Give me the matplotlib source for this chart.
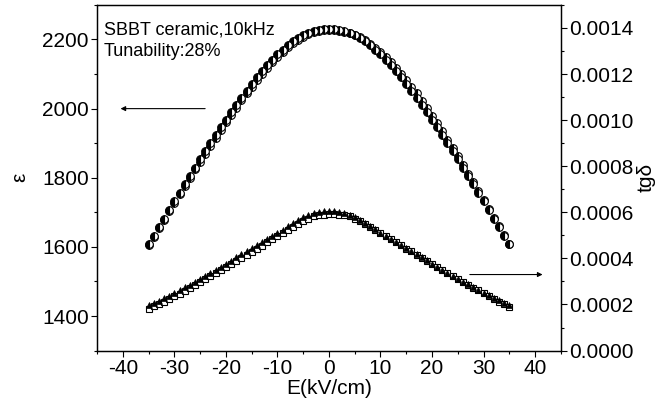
import numpy as np
import matplotlib.pyplot as plt
from matplotlib.ticker import MultipleLocator, FormatStrFormatter

plt.rcParams['font.family'] = ['Liberation Sans', 'DejaVu Sans']
plt.rcParams['font.size'] = 15
plt.rcParams['axes.unicode_minus'] = False

# field values, -35 ... 35 kV/cm in 1 kV/cm steps
E = np.arange(-35, 36)

# permittivity, up sweep and down sweep
eps_up = [1607, 1632, 1657, 1682, 1707, 1732, 1757, 1781, 1805, 1829, 1853, 1877,
          1900, 1923, 1946, 1968, 1990, 2011, 2032, 2052, 2072, 2091, 2109, 2126,
          2142, 2157, 2171, 2184, 2195, 2205, 2213, 2219, 2224, 2227, 2229, 2230,
          2229, 2227, 2224, 2219, 2213, 2205, 2195, 2184, 2171, 2157, 2142, 2126,
          2109, 2091, 2072, 2052, 2032, 2011, 1990, 1968, 1946, 1923, 1900, 1877,
          1853, 1829, 1805, 1781, 1757, 1732, 1707, 1682, 1657, 1632, 1607]
eps_down = [1605, 1629, 1654, 1679, 1704, 1728, 1752, 1776, 1800, 1824, 1847, 1870,
            1893, 1916, 1938, 1960, 1982, 2003, 2024, 2044, 2064, 2083, 2101, 2118,
            2135, 2150, 2164, 2177, 2189, 2199, 2208, 2215, 2221, 2225, 2227, 2228,
            2228, 2226, 2223, 2219, 2214, 2207, 2198, 2188, 2176, 2163, 2149, 2134,
            2118, 2101, 2083, 2064, 2044, 2023, 2002, 1980, 1957, 1934, 1910, 1886,
            1862, 1837, 1812, 1787, 1762, 1737, 1711, 1685, 1659, 1633, 1607]

# loss tangent in units of 1e-6
tan_tri = [196, 206, 217, 228, 239, 250, 262, 274, 286, 298, 311, 324,
           337, 350, 363, 377, 390, 404, 417, 431, 444, 458, 471, 485,
           498, 512, 525, 539, 552, 566, 578, 589, 597, 602, 605, 606,
           605, 602, 597, 589, 578, 566, 553, 539, 526, 512, 499, 485,
           472, 458, 445, 431, 418, 404, 391, 377, 364, 351, 338, 325,
           312, 299, 287, 275, 263, 251, 240, 229, 218, 208, 199]
tan_sq = [182, 192, 202, 213, 224, 235, 247, 259, 271, 283, 296, 309,
          322, 335, 348, 362, 375, 389, 402, 416, 429, 443, 456, 470,
          483, 497, 510, 524, 537, 550, 562, 573, 582, 588, 590, 591,
          591, 590, 588, 582, 573, 562, 550, 537, 524, 511, 497, 484,
          470, 457, 443, 430, 416, 403, 389, 376, 362, 349, 336, 323,
          310, 297, 285, 273, 261, 249, 236, 224, 213, 202, 191]

tan_tri = np.array(tan_tri) * 1e-6
tan_sq = np.array(tan_sq) * 1e-6

fig = plt.figure(figsize=(6.7, 4.11), dpi=100)
ax = fig.add_axes([0.145, 0.147, 0.692, 0.841])
ax2 = ax.twinx()

# circles (permittivity)
ax.plot(E, eps_down, 'o', ms=5.5, fillstyle='left', mfc='black', mfcalt='white',
        mec='black', mew=0.8, zorder=3)
ax.plot(E, eps_up, 'o', ms=5.5, fillstyle='left', mfc='black', mfcalt='white',
        mec='black', mew=0.8, zorder=4)

# loss tangent
ax2.plot(E, tan_sq, 's', ms=4.2, mfc='white', mec='black', mew=0.8, zorder=3)
ax2.plot(E, tan_tri, '^', ms=5, mfc='black', mec='black', mew=0.5, zorder=4)

ax.set_xlim(-45, 45)
ax.set_ylim(1300, 2300)
ax2.set_ylim(0, 0.0015)

ax.xaxis.set_major_locator(MultipleLocator(10))
ax.xaxis.set_minor_locator(MultipleLocator(5))
ax.yaxis.set_major_locator(MultipleLocator(200))
ax.yaxis.set_minor_locator(MultipleLocator(100))
ax2.yaxis.set_major_locator(MultipleLocator(0.0002))
ax2.yaxis.set_minor_locator(MultipleLocator(0.0001))
ax2.yaxis.set_major_formatter(FormatStrFormatter('%.4f'))

for a in (ax, ax2):
    a.tick_params(which='major', direction='out', length=4, width=0.8, pad=2)
    a.tick_params(which='minor', direction='out', length=2.5, width=0.8)
    for s in a.spines.values():
        s.set_linewidth(0.9)
ax.tick_params(top=False, right=False)
ax2.tick_params(left=False)

ax.set_xlabel('E(kV/cm)', labelpad=1)
ax.set_ylabel('ε', labelpad=9)
ax2.set_ylabel('tgδ', labelpad=2.5)

ax.text(0.015, 0.928, 'SBBT ceramic,10kHz', transform=ax.transAxes,
        va='center', fontsize=13)
ax.text(0.015, 0.864, 'Tunability:28%', transform=ax.transAxes,
        va='center', fontsize=13)

# arrows pointing at the axes
ax.annotate('', xy=(-41, 2000), xytext=(-23.5, 2000),
            arrowprops=dict(arrowstyle='-|>', color='black', lw=0.8,
                            mutation_scale=7))
ax2.annotate('', xy=(42, 0.00033), xytext=(26.8, 0.00033),
             arrowprops=dict(arrowstyle='-|>', color='black', lw=0.8,
                             mutation_scale=7))

fig.savefig('out.png', dpi=100)
